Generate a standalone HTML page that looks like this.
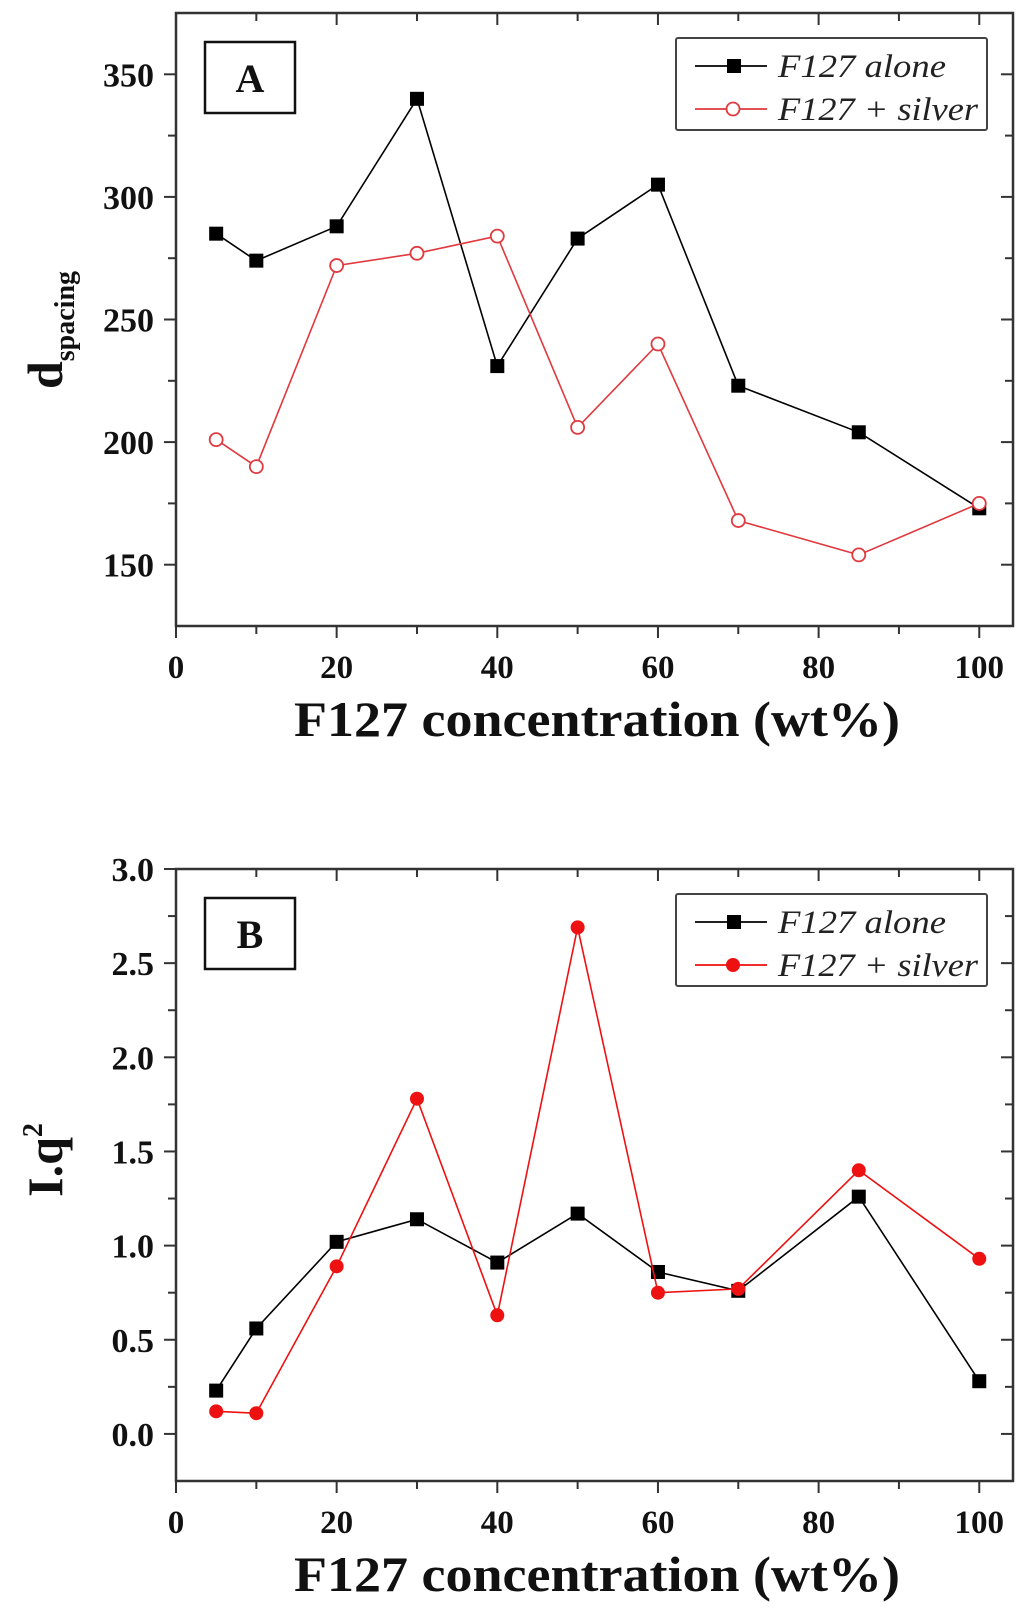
<!DOCTYPE html>
<html><head><meta charset="utf-8"><style>
html,body{margin:0;padding:0;background:#fff;width:1024px;height:1624px;overflow:hidden}
svg{display:block;font-family:"Liberation Serif",serif}
</style></head><body>
<svg id="fig" width="1024" height="1624" viewBox="0 0 1024 1624"></svg>
<script>
const categories = [5, 10, 20, 30, 40, 50, 60, 70, 85, 100];
const dAlone = [285, 274, 288, 340, 231, 283, 305, 223, 204, 173];
const dSilver = [201, 190, 272, 277, 284, 206, 240, 168, 154, 175];
const iqAlone = [0.23, 0.56, 1.02, 1.14, 0.91, 1.17, 0.86, 0.76, 1.26, 0.28];
const iqSilver = [0.12, 0.11, 0.89, 1.78, 0.63, 2.69, 0.75, 0.77, 1.40, 0.93];
const xTicks = [0, 20, 40, 60, 80, 100];
const yTicksA = [150, 200, 250, 300, 350];
const yTicksB = ["0.0", "0.5", "1.0", "1.5", "2.0", "2.5", "3.0"];

const NS = "http://www.w3.org/2000/svg";
const svg = document.getElementById("fig");
function mk(tag, attrs, parent){
  const e = document.createElementNS(NS, tag);
  for (const k in attrs) e.setAttribute(k, attrs[k]);
  (parent || svg).appendChild(e);
  return e;
}

function panel(cfg){
  const g = mk("g", {});
  
  
  const L = 176, R = 1013, T = cfg.top, B = cfg.bottom;
  const xs = v => L + (v - 0) / 104.2 * (R - L);
  const ys = v => B - (v - cfg.ymin) / (cfg.ymax - cfg.ymin) * (B - T);
  const fr = mk("rect", {x:L, y:T, width:R-L, height:B-T, fill:"none", stroke:"#333", "stroke-width":2.5}, g);
  
  
  for (let v = 0; v <= 100; v += 10) {
    const major = v % 20 === 0;
    const len = major ? 12 : 8;
    mk("line", {x1:xs(v), x2:xs(v), y1:B, y2:B+len, stroke:"#333", "stroke-width":2}, g);
    mk("line", {x1:xs(v), x2:xs(v), y1:T, y2:T+len, stroke:"#333", "stroke-width":2}, g);
  }
  xTicks.forEach(v => {
    const t = mk("text", {x:xs(v), y:B+52, "text-anchor":"middle", "font-size":33, "font-weight":"bold", fill:"#111"}, g);
    t.textContent = v;
    
    
  });
  for (let v = cfg.ymin; v <= cfg.ymax + 1e-9; v += cfg.minor) {
    if (v <= cfg.ymin + 1e-9 || v >= cfg.ymax - 1e-9) continue;
    const major = cfg.yLabels.some(l => Math.abs(parseFloat(l) - v) < 1e-6);
    const len = major ? 12 : 8;
    mk("line", {x1:L-len, x2:L, y1:ys(v), y2:ys(v), stroke:"#333", "stroke-width":2}, g);
    mk("line", {x1:R-len, x2:R, y1:ys(v), y2:ys(v), stroke:"#333", "stroke-width":2}, g);
  }
  cfg.yLabels.forEach(l => {
    const v = parseFloat(l);
    if (v >= cfg.ymax - 1e-9) mk("line", {x1:L-12, x2:L, y1:ys(v), y2:ys(v), stroke:"#333", "stroke-width":2}, g);
    const t = mk("text", {x:154, y:ys(v)+12, "text-anchor":"end", "font-size":34, "font-weight":"bold", fill:"#111"}, g);
    t.textContent = l;
    
    
  });
  const xt = mk("text", {x:597, y:B+110, "text-anchor":"middle", "font-size":50, "font-weight":"bold", fill:"#111", textLength:606, lengthAdjust:"spacingAndGlyphs"}, g);
  xt.textContent = "F127 concentration (wt%)";
  
  
  const yt = mk("text", {transform:`translate(62 ${cfg.ytY}) rotate(-90)`, "text-anchor":"middle", "font-size":50, "font-weight":"bold", fill:"#111"}, g);
  
  
  if (cfg.name === "panel-a") {
    yt.innerHTML = 'd<tspan font-size="28" dy="12">spacing</tspan>';
  } else {
    yt.innerHTML = 'I.q<tspan font-size="28" dy="-20">2</tspan>';
  }
  const lb = mk("rect", {x:205, y:T+29, width:90, height:71, fill:"#fff", stroke:"#111", "stroke-width":2.5}, g);
  
  
  const lt = mk("text", {x:250, y:T+79, "text-anchor":"middle", "font-size":40, "font-weight":"bold", fill:"#111"}, g);
  lt.textContent = cfg.label;
  
  
  function series(vals, color, marker, name){
    const sg = mk("g", {}, g);
    
    
    const pts = categories.map((c,i) => xs(c).toFixed(1) + "," + ys(vals[i]).toFixed(1)).join(" ");
    mk("polyline", {points:pts, fill:"none", stroke:color, "stroke-width":1.6}, sg);
    categories.forEach((c,i) => {
      const x = xs(c), y = ys(vals[i]);
      let m;
      if (marker === "square") m = mk("rect", {x:x-7, y:y-7, width:14, height:14, fill:"#000"}, sg);
      else if (marker === "open") m = mk("circle", {cx:x, cy:y, r:6.5, fill:"#fff", stroke:color, "stroke-width":1.8}, sg);
      else m = mk("circle", {cx:x, cy:y, r:7, fill:color}, sg);
      
      
    });
  }
  series(cfg.s1, "#000", "square", "series-f127-alone");
  series(cfg.s2, cfg.s2color, cfg.m2, "series-f127-silver");
  const lg = mk("g", {}, g);
  
  
  mk("rect", {x:676, y:T+25, width:311, height:92, fill:"#fff", stroke:"#444", "stroke-width":2, rx:2}, lg);
  const rows = [[T+53, "#000", "square", "F127 alone", 168], [T+96, cfg.s2color, cfg.m2, "F127 + silver", 200]];
  rows.forEach(r => {
    const eg = mk("g", {}, lg);
    
    
    mk("line", {x1:695, x2:767, y1:r[0], y2:r[0], stroke:r[1], "stroke-width":1.8}, eg);
    if (r[2] === "square") mk("rect", {x:727, y:r[0]-7, width:14, height:14, fill:"#000"}, eg);
    else if (r[2] === "open") mk("circle", {cx:733, cy:r[0], r:6.5, fill:"#fff", stroke:r[1], "stroke-width":1.8}, eg);
    else mk("circle", {cx:733, cy:r[0], r:7, fill:r[1]}, eg);
    const t = mk("text", {x:778, y:r[0]+11, "font-size":33, "font-style":"italic", fill:"#222", textLength:r[4], lengthAdjust:"spacingAndGlyphs"}, eg);
    t.textContent = r[3];
  });
}

panel({name:"panel-a", label:"A", top:13, bottom:626, ymin:125, ymax:375, minor:25,
  yLabels: yTicksA.map(String), s1:dAlone, s2:dSilver, s2color:"#e0393e", m2:"open", ytY:330});
panel({name:"panel-b", label:"B", top:869, bottom:1481, ymin:-0.25, ymax:3.0, minor:0.25,
  yLabels: yTicksB, s1:iqAlone, s2:iqSilver, s2color:"#ee1111", m2:"filled", ytY:1160});
</script>
</body></html>
